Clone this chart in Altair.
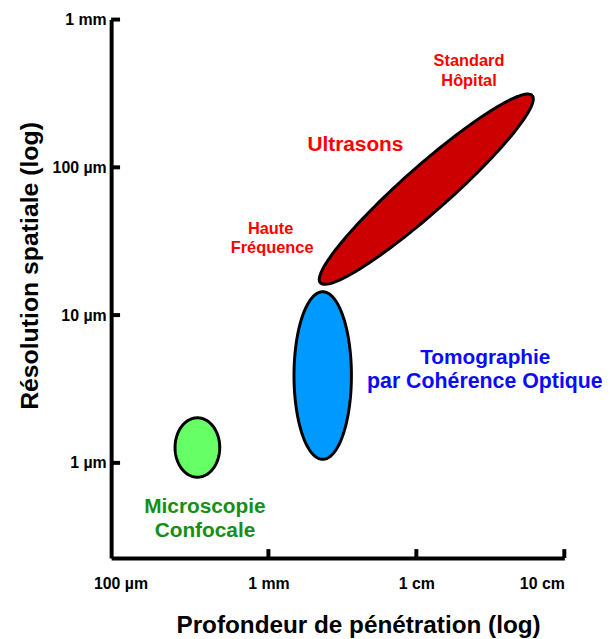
import altair as alt
import numpy as np
import pandas as pd

# ---- data (log10 units: x in log10(mm), y in log10(µm)) ----
X_TICK_VALUES = [-1, 0, 1, 2]
X_TICK_LABELS = ["100 µm", "1 mm", "1 cm", "10 cm"]
Y_TICK_VALUES = [0, 1, 2, 3]
Y_TICK_LABELS = ["1 µm", "10 µm", "100 µm", "1 mm"]

ELLIPSE_NAMES = ["Microscopie Confocale", "Tomographie par Cohérence Optique", "Ultrasons"]
ELLIPSE_CX = [-0.480, 0.367, 1.067]
ELLIPSE_CY = [0.104, 0.591, 1.852]
ELLIPSE_A = [0.151, 0.194, 0.956]
ELLIPSE_B = [0.201, 0.567, 0.154]
ELLIPSE_ANGLE = [0.0, 0.0, 41.5]
ELLIPSE_FILL = ["#66ff66", "#0099ff", "#cc0000"]

LABEL_TEXT = ["Standard", "Hôpital", "Ultrasons", "Haute", "Fréquence",
              "Tomographie", "par Cohérence Optique", "Microscopie", "Confocale"]
LABEL_X = [1.356, 1.356, 0.588, 0.015, 0.025, 1.466, 1.463, -0.429, -0.429]
LABEL_Y = [2.718, 2.584, 2.148, 1.584, 1.456, 0.711, 0.546, -0.302, -0.463]
LABEL_COLOR = ["#ff0000", "#ff0000", "#ff0000", "#ff0000", "#ff0000",
               "#0a0aff", "#0a0aff", "#159015", "#159015"]
LABEL_SIZE = [16.5, 16.5, 21, 16.5, 16.5, 21, 21.5, 21, 21]

X_DOMAIN = [-1.063, 2]
Y_DOMAIN = [-0.644, 3]
W, H = 457, 543
FONT = "Liberation Sans"


def label_expr(values, labels):
    parts = [f"datum.value == {v} ? '{l}'" for v, l in zip(values, labels)]
    return " : ".join(parts) + " : ''"


x_axis = alt.Axis(values=X_TICK_VALUES, labelExpr=label_expr(X_TICK_VALUES, X_TICK_LABELS),
                  title="Profondeur de pénétration (log)", grid=False, ticks=False, tickSize=0,
                  domainColor="black", domainWidth=4, labelPadding=18,
                  labelFont=FONT, labelFontWeight="bold", labelFontSize=16, labelColor="black",
                  titleFont=FONT, titleFontWeight="bold", titleFontSize=24.5, titleColor="black",
                  titleX=249, titleY=75, titleBaseline="alphabetic", titleAlign="center")
y_axis = alt.Axis(values=Y_TICK_VALUES, labelExpr=label_expr(Y_TICK_VALUES, Y_TICK_LABELS),
                  title="Résolution spatiale (log)", grid=False, ticks=False, tickSize=0,
                  domainColor="black", domainWidth=4, labelPadding=5,
                  labelFont=FONT, labelFontWeight="bold", labelFontSize=16, labelColor="black",
                  titleFont=FONT, titleFontWeight="bold", titleFontSize=25, titleColor="black",
                  titleX=-82, titleY=248, titleBaseline="middle", titleAlign="center", titleAngle=270)

xs = alt.Scale(domain=X_DOMAIN, nice=False, zero=False)
ys = alt.Scale(domain=Y_DOMAIN, nice=False, zero=False)

layers = []
t = np.linspace(0, 2 * np.pi, 181)
for name, cx, cy, a, b, ang, fill in zip(ELLIPSE_NAMES, ELLIPSE_CX, ELLIPSE_CY, ELLIPSE_A,
                                          ELLIPSE_B, ELLIPSE_ANGLE, ELLIPSE_FILL):
    th = np.deg2rad(ang)
    ex = cx + a * np.cos(t) * np.cos(th) - b * np.sin(t) * np.sin(th)
    ey = cy + a * np.cos(t) * np.sin(th) + b * np.sin(t) * np.cos(th)
    df = pd.DataFrame({"x": ex, "y": ey, "i": np.arange(len(t)), "name": name})
    layers.append(
        alt.Chart(df).mark_line(fill=fill, stroke="black", strokeWidth=3, clip=False).encode(
            x=alt.X("x:Q", scale=xs, axis=x_axis),
            y=alt.Y("y:Q", scale=ys, axis=y_axis),
            order="i:Q",
        )
    )

labels_df = pd.DataFrame({"text": LABEL_TEXT, "x": LABEL_X, "y": LABEL_Y,
                          "color": LABEL_COLOR, "size": LABEL_SIZE})
text_layer = alt.Chart(labels_df).mark_text(font=FONT, fontWeight="bold", baseline="middle",
                                            align="center", clip=False).encode(
    x=alt.X("x:Q", scale=xs, axis=x_axis),
    y=alt.Y("y:Q", scale=ys, axis=y_axis),
    text="text:N",
    color=alt.Color("color:N", scale=None),
    size=alt.Size("size:Q", scale=None),
)

yticks = pd.DataFrame({"y": Y_TICK_VALUES})
ytick_layer = alt.Chart(yticks).mark_rule(color="black", strokeWidth=4).encode(
    y=alt.Y("y:Q", scale=ys, axis=y_axis), x=alt.value(0), x2=alt.value(9))
xticks = pd.DataFrame({"x": X_TICK_VALUES[1:]})
xtick_layer = alt.Chart(xticks).mark_rule(color="black", strokeWidth=4).encode(
    x=alt.X("x:Q", scale=xs, axis=x_axis), y=alt.value(H - 9), y2=alt.value(H))

chart = alt.layer(*layers, text_layer, ytick_layer, xtick_layer).properties(
    width=W, height=H,
    autosize=alt.AutoSizeParams(type="none"),
    padding={"left": 104, "top": 9, "right": 38, "bottom": 80},
    background="white",
).configure_view(stroke=None)

chart.save("out.html", embed_options={"renderer": "svg", "actions": False})
